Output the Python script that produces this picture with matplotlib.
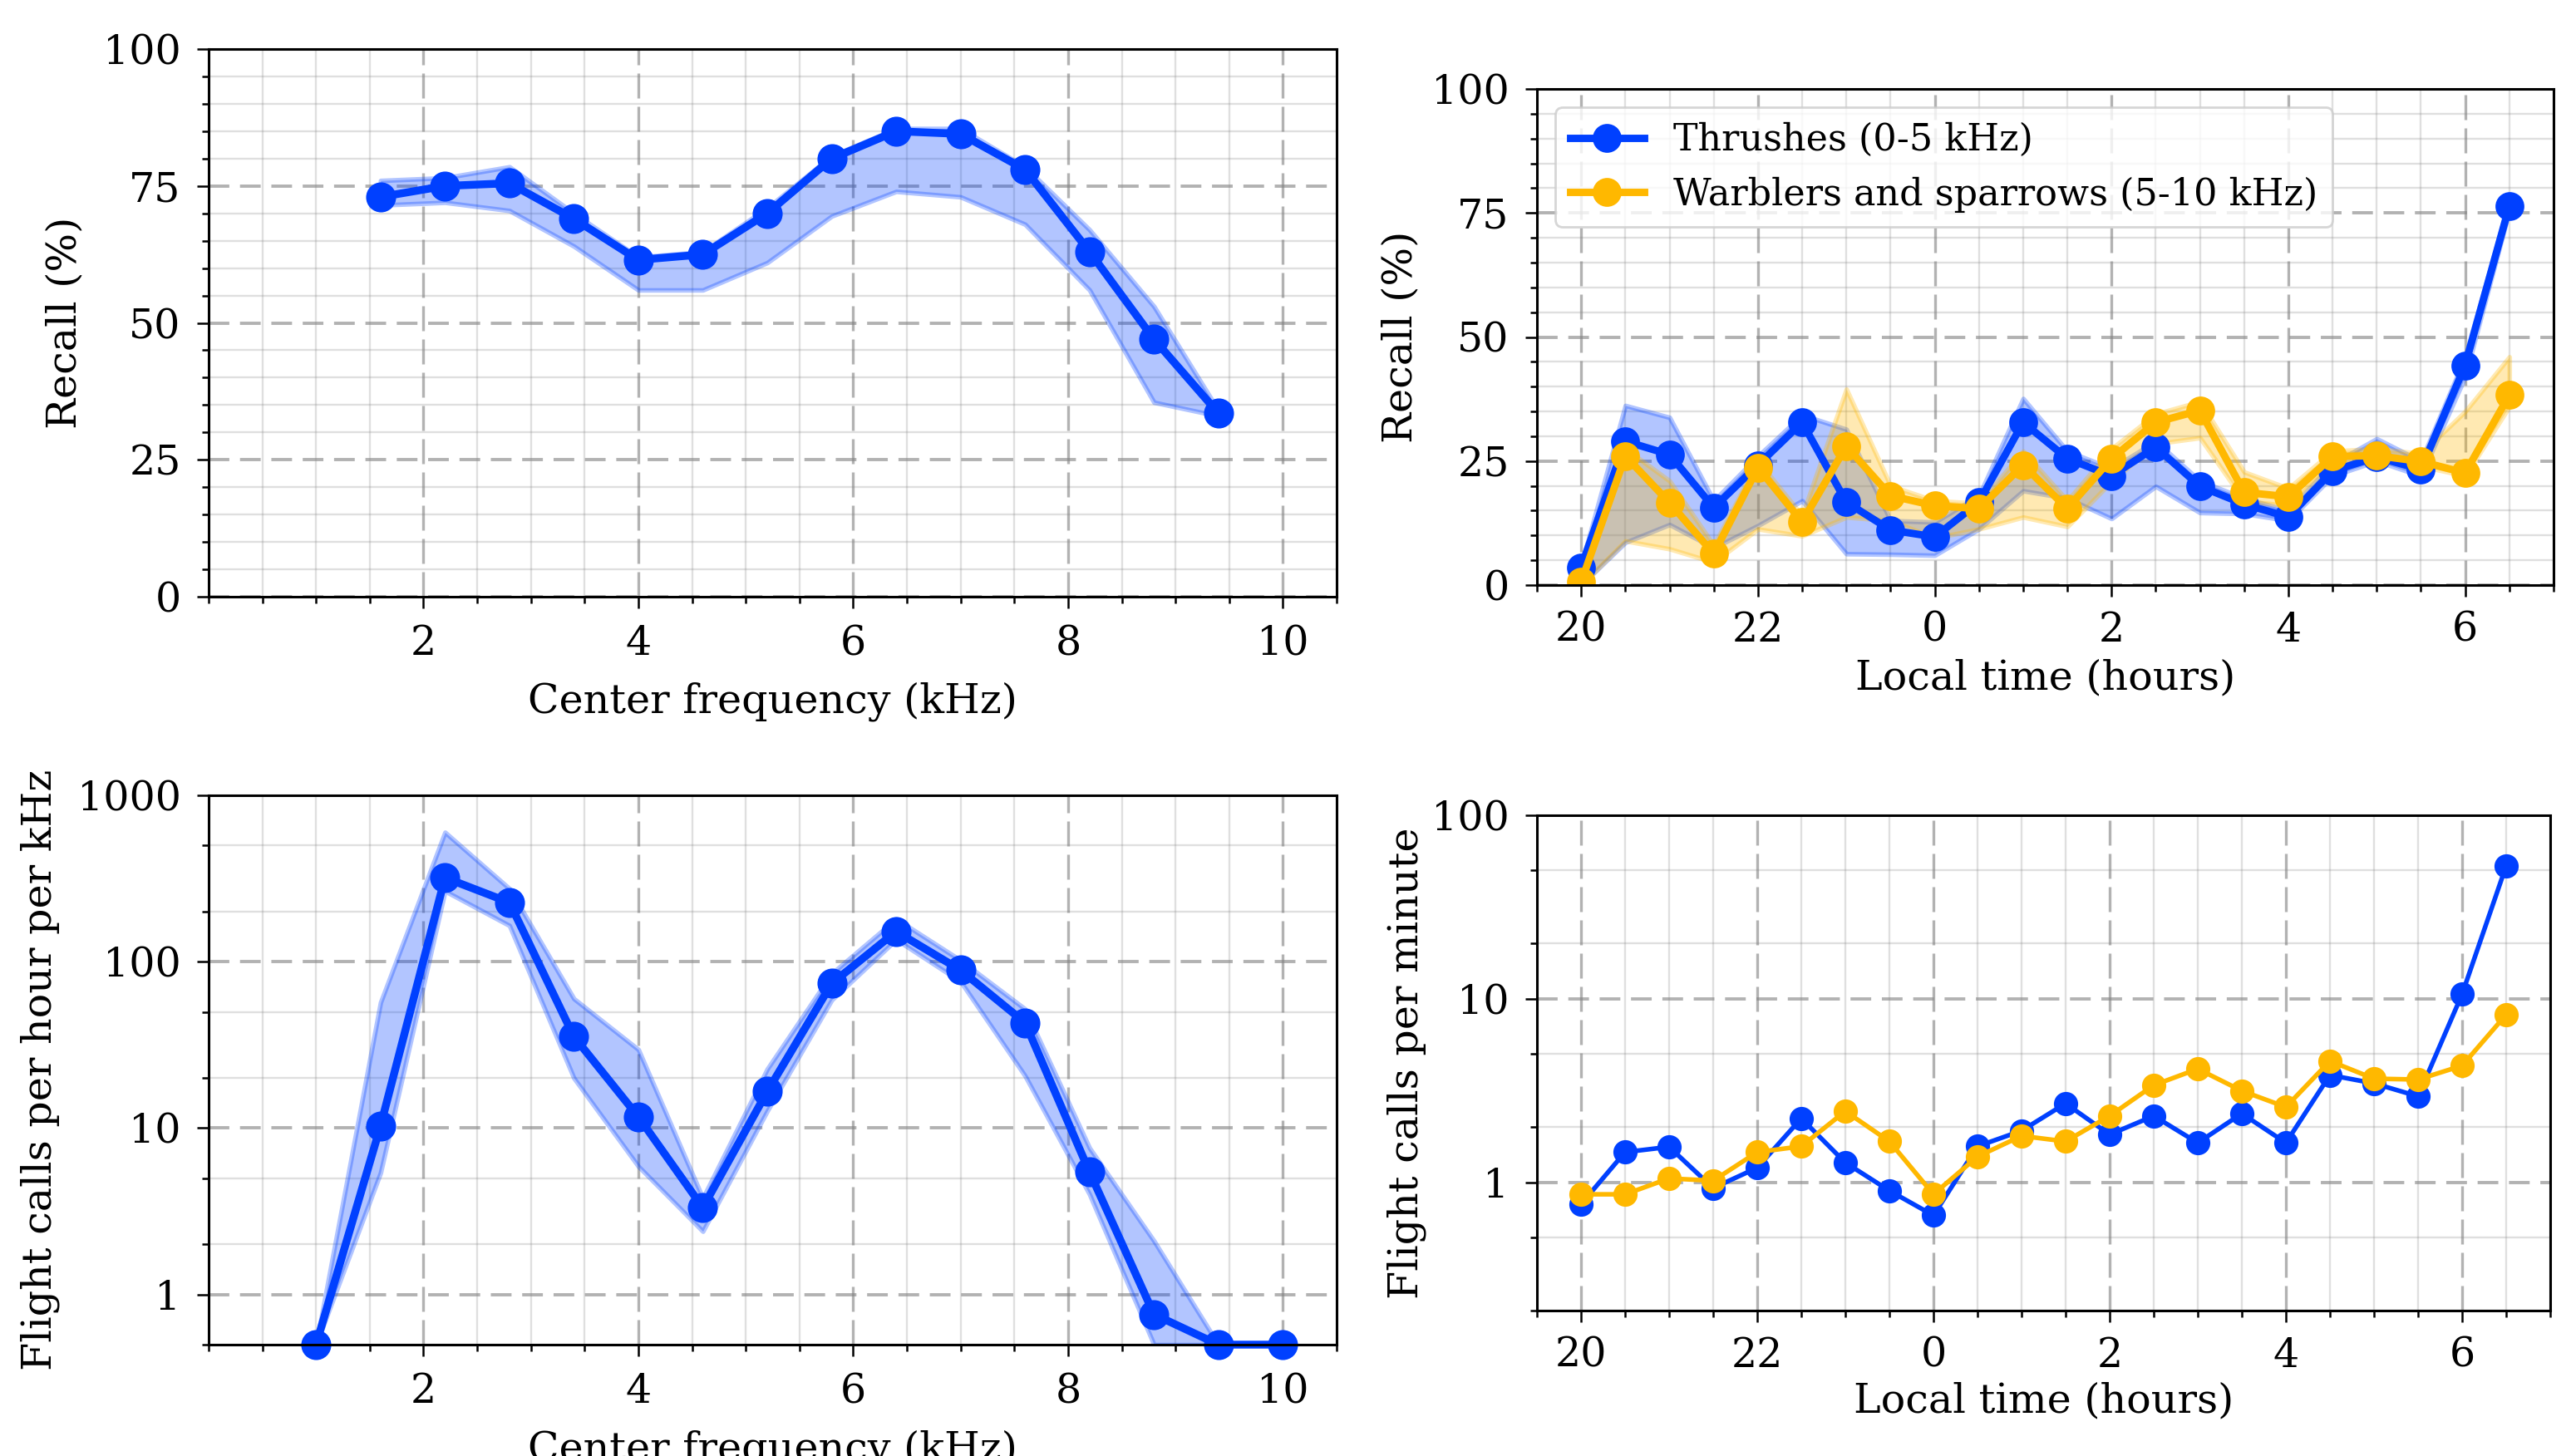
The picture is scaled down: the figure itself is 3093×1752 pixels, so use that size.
import numpy as np
import matplotlib
matplotlib.use("Agg")
import matplotlib.pyplot as plt
from matplotlib.ticker import MultipleLocator, LogLocator, NullFormatter, FixedLocator

plt.rcParams["font.family"] = ["DejaVu Serif"]
plt.rcParams["font.size"] = 17.7

BLUE = "#0040ff"
ORANGE = "#ffb800"

# --- recall vs center frequency (top left) ---
freq_khz = [1.6, 2.2, 2.8, 3.4, 4.0, 4.6, 5.2, 5.8, 6.4, 7.0, 7.6, 8.2, 8.8, 9.4]
recall_freq = [73, 75, 75.5, 69, 61.5, 62.5, 70, 80, 85, 84.5, 78, 63, 47, 33.5]
recall_freq_hi = [76, 76.5, 78.5, 70, 62, 63, 71, 80.5, 85.5, 85.5, 78.5, 67, 53, 34]
recall_freq_lo = [71.5, 72, 70.5, 64, 56, 56, 61, 69.5, 74, 73, 68, 56, 35.5, 33]

# --- flight call density vs center frequency (bottom left) ---
freq_khz2 = [1.0, 1.6, 2.2, 2.8, 3.4, 4.0, 4.6, 5.2, 5.8, 6.4, 7.0, 7.6, 8.2, 8.8, 9.4, 10.0]
density = [0.5, 10.3, 320, 227, 35.5, 11.7, 3.33, 16.6, 74, 152, 89, 43, 5.45, 0.76, 0.5, 0.5]
density_hi = [0.5, 57, 600, 275, 60, 29.7, 3.8, 22.7, 85, 181, 102, 52, 7.6, 2.1, 0.5, 0.5]
density_lo = [0.5, 5.4, 266, 165, 20, 5.9, 2.4, 12.7, 59, 136, 76, 20.6, 4.0, 0.5, 0.5, 0.5]

# --- recall vs local time (top right); hours past 24 are after midnight ---
hours = [20.0, 20.5, 21.0, 21.5, 22.0, 22.5, 23.0, 23.5, 24.0, 24.5, 25.0,
         25.5, 26.0, 26.5, 27.0, 27.5, 28.0, 28.5, 29.0, 29.5, 30.0, 30.5]
hour_ticks = [20, 22, 24, 26, 28, 30]
hour_labels = ["20", "22", "0", "2", "4", "6"]

thrush_recall = [3.6, 29, 26.3, 15.6, 24.2, 32.8, 16.7, 11.1, 9.7, 16.7, 32.8,
                 25.5, 22, 27.8, 19.9, 16.3, 13.7, 23, 25.8, 23.3, 44.3, 76.4]
thrush_recall_hi = [4, 36.2, 33.8, 17, 26, 34.3, 31.4, 13, 12.7, 18, 37.6,
                    27, 23.5, 29, 21, 17.5, 15, 24.5, 29.5, 25, 46, 77.5]
thrush_recall_lo = [0, 8.6, 12.2, 7.5, 12, 17, 6.3, 6.2, 6, 11.3, 19,
                    17.5, 13.4, 19.9, 14.6, 14.4, 13, 22, 25, 22, 42, 75.5]

warbler_recall = [0.6, 26, 16.6, 6.3, 23.7, 12.7, 28, 18, 16, 15.4, 24.2,
                  15.4, 25.5, 32.8, 35.2, 18.7, 17.8, 25.9, 26.1, 24.9, 22.6, 38.3]
warbler_recall_hi = [1.5, 27.5, 21, 8, 25, 14, 39.5, 20, 17, 16.5, 27,
                     17, 27.5, 34.5, 37, 22.8, 19.5, 27, 27.5, 26.5, 35, 46]
warbler_recall_lo = [0, 8.9, 7.3, 4.6, 11.3, 9.9, 13.7, 13, 9.5, 11.3, 13.7,
                     11.8, 20.9, 28.5, 29.7, 17, 16, 24.5, 25, 24, 22, 36]

# --- flight calls per minute vs local time (bottom right) ---
thrush_rate = [0.76, 1.46, 1.56, 0.93, 1.2, 2.23, 1.28, 0.9, 0.66, 1.57, 1.91,
               2.69, 1.82, 2.3, 1.64, 2.37, 1.64, 3.84, 3.46, 2.94, 10.6, 53]
warbler_rate = [0.86, 0.86, 1.05, 1.02, 1.46, 1.57, 2.44, 1.67, 0.86, 1.38, 1.79,
                1.67, 2.3, 3.38, 4.15, 3.15, 2.57, 4.58, 3.67, 3.63, 4.32, 8.2]


def style_axes(ax):
    for s in ax.spines.values():
        s.set_linewidth(1.1)
    ax.tick_params(which="major", length=5, width=0.9, pad=7, direction="out", labelsize=17.7)
    ax.tick_params(which="minor", length=3, width=0.9, direction="out")
    ax.grid(which="minor", color="gray", alpha=0.25, lw=0.85, ls="-")
    ax.grid(which="major", axis="y", color="gray", alpha=0.6, lw=1.4, ls="--", dashes=(6.4, 3.3))
    ax.grid(which="major", axis="x", color="gray", alpha=0.6, lw=1.2, ls="--", dashes=(9, 3))
    ax.set_axisbelow(True)


def freq_xaxis(ax):
    ax.set_xlim(0, 10.5)
    ax.xaxis.set_major_locator(FixedLocator([2, 4, 6, 8, 10]))
    ax.xaxis.set_minor_locator(MultipleLocator(0.5))
    ax.set_xlabel("Center frequency (kHz)", labelpad=8)


def time_xaxis(ax, pad):
    ax.set_xlim(19.5, 31)
    ax.set_xticks(hour_ticks)
    ax.set_xticklabels(hour_labels)
    ax.xaxis.set_minor_locator(MultipleLocator(0.5))
    ax.set_xlabel("Local time (hours)", labelpad=pad)


fig = plt.figure(figsize=(15.465, 8.76), dpi=200)
W, H = 3093, 1752


def px_axes(l, t, r, b):
    return fig.add_axes([l / W, 1 - b / H, (r - l) / W, (b - t) / H])


ax1 = px_axes(251, 59, 1608, 718)
ax2 = px_axes(1849, 107, 3072, 704)
ax3 = px_axes(251, 957, 1608, 1618)
ax4 = px_axes(1849, 981, 3068, 1577)

# top left
ax1.fill_between(freq_khz, recall_freq_lo, recall_freq_hi, color=BLUE, alpha=0.3, lw=2)
ax1.plot(freq_khz, recall_freq, "-o", color=BLUE, lw=3.4, ms=12)
freq_xaxis(ax1)
ax1.set_ylim(0, 100)
ax1.yaxis.set_major_locator(MultipleLocator(25))
ax1.yaxis.set_minor_locator(MultipleLocator(5))
ax1.set_ylabel("Recall (%)", labelpad=8)
style_axes(ax1)

# bottom left
ax3.fill_between(freq_khz2, density_lo, density_hi, color=BLUE, alpha=0.3, lw=2)
ax3.plot(freq_khz2, density, "-o", color=BLUE, lw=3.4, ms=12, clip_on=False)
ax3.set_yscale("log")
ax3.set_ylim(0.5, 1000)
ax3.yaxis.set_major_locator(FixedLocator([1, 10, 100, 1000]))
ax3.set_yticklabels(["1", "10", "100", "1000"])
ax3.yaxis.set_minor_locator(LogLocator(base=10, subs=(2.0, 5.0)))
ax3.yaxis.set_minor_formatter(NullFormatter())
freq_xaxis(ax3)
ax3.set_ylabel("Flight calls per hour per kHz", labelpad=7.5)
style_axes(ax3)

# top right
ax2.fill_between(hours, thrush_recall_lo, thrush_recall_hi, color=BLUE, alpha=0.3, lw=2)
ax2.fill_between(hours, warbler_recall_lo, warbler_recall_hi, color=ORANGE, alpha=0.3, lw=2)
ax2.plot(hours, thrush_recall, "-o", color=BLUE, lw=3.2, ms=11.5, label="Thrushes (0-5 kHz)")
ax2.plot(hours, warbler_recall, "-o", color=ORANGE, lw=3.2, ms=11.5,
         label="Warblers and sparrows (5-10 kHz)")
time_xaxis(ax2, 4)
ax2.set_ylim(0, 100)
ax2.yaxis.set_major_locator(MultipleLocator(25))
ax2.yaxis.set_minor_locator(MultipleLocator(5))
ax2.set_ylabel("Recall (%)", labelpad=5)
style_axes(ax2)
ax2.tick_params(axis="x", which="major", pad=6)
ax2.legend(loc="upper left", fontsize=16, framealpha=0.8)

# bottom right
ax4.plot(hours, thrush_rate, "-o", color=BLUE, lw=2.0, ms=9.5)
ax4.plot(hours, warbler_rate, "-o", color=ORANGE, lw=2.0, ms=9.5)
ax4.set_yscale("log")
ax4.set_ylim(0.2, 100)
ax4.yaxis.set_major_locator(FixedLocator([1, 10, 100]))
ax4.set_yticklabels(["1", "10", "100"])
ax4.yaxis.set_minor_locator(LogLocator(base=10, subs=(2.0, 5.0)))
ax4.yaxis.set_minor_formatter(NullFormatter())
time_xaxis(ax4, 3)
ax4.set_ylabel("Flight calls per minute", labelpad=2)
style_axes(ax4)
ax4.tick_params(axis="x", which="major", pad=6)

fig.savefig("out.png", dpi=200)
